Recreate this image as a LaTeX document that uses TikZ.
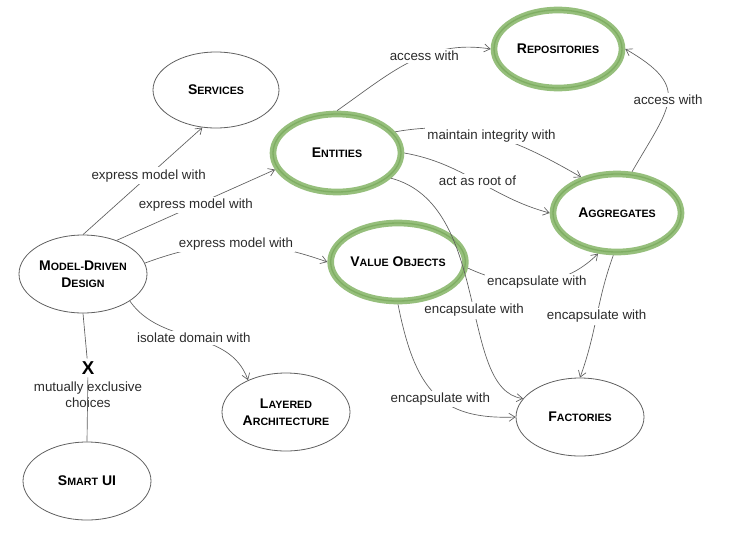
\documentclass[tikz,border=0pt]{standalone}
\usepackage{fontspec}
\setmainfont{Liberation Sans}
\usetikzlibrary{shapes.geometric,arrows.meta}
\definecolor{linegray}{HTML}{5F5F5F}
\definecolor{textgray}{HTML}{2B2B2B}
\definecolor{leafgreen}{HTML}{96BF7C}
\definecolor{leafdark}{HTML}{7FAE63}
\newcommand{\kw}[2]{{\fontsize{10.5}{13}\selectfont #1}{\fontsize{8}{13}\selectfont #2}}

\begin{document}
\begin{tikzpicture}[x=0.75pt,y=0.75pt]
\tikzstyle{every node}+=[inner sep=0pt]
\tikzstyle{concept}=[ellipse,draw=linegray,line width=0.6pt,minimum width=96pt,minimum height=58.5pt,align=center,text=black,font=\bfseries\fontsize{10.5}{13}\selectfont]
\tikzstyle{keyconcept}=[concept,draw=leafgreen,line width=5pt,postaction={draw=leafdark,line width=1pt}]
\tikzstyle{link}=[draw=linegray,line width=0.5pt,-{Straight Barb[length=4.5pt,width=6pt]}]
\tikzstyle{plain}=[draw=linegray,line width=0.5pt]
\tikzstyle{lbl}=[fill=white,inner sep=1.5pt,text=textgray,font=\fontsize{10}{12}\selectfont]
\useasboundingbox (0,0) rectangle (745,-532);
\node[concept,minimum width=94.5pt,minimum height=57pt] (services) at (216,-90) {\kw{S}{ERVICES}};
\node[concept] (mdd) at (83,-274) {\kw{M}{ODEL-}\kw{D}{RIVEN}\\\kw{D}{ESIGN}};
\node[concept] (smart) at (87,-481) {\kw{S}{MART} \kw{UI}{}};
\node[concept] (layer) at (286,-412) {\kw{L}{AYERED}\\\kw{A}{RCHITECTURE}};
\node[concept] (facts) at (580,-417) {\kw{F}{ACTORIES}};
\node[keyconcept] (entities) at (337,-153) {\kw{E}{NTITIES}};
\node[keyconcept] (repos) at (558,-49) {\kw{R}{EPOSITORIES}};
\node[keyconcept] (aggs) at (617,-213) {\kw{A}{GGREGATES}};
\node[keyconcept] (values) at (398,-262) {\kw{V}{ALUE} \kw{O}{BJECTS}};
\node[font=\bfseries\fontsize{14}{16}\selectfont,inner sep=2pt] (cross) at (88,-368) {X};
\node[text=textgray,align=center,font=\fontsize{10}{12}\selectfont] (choice) at (88,-395) {mutually exclusive\\choices};
\draw[link] (mdd.north) -- node[lbl,pos=0.55] {express model with} (services.-110);
\draw[link] (mdd.45) -- node[lbl] {express model with} (entities.195);
\draw[link] (mdd.10) to[bend left=20] node[lbl] {express model with} (values.west);
\draw[link] (mdd.-30) to[out=-55,in=110] node[lbl] {isolate domain with} (layer.140);
\draw[plain] (mdd.south) -- (cross);
\draw[plain] (cross) -- (smart.north);
\draw[link] (entities.north) to[out=35,in=171] node[lbl,pos=0.6] {access with} (repos.west);
\draw[link] (entities.20) to[out=10,in=150] node[lbl] {maintain integrity with} (aggs.135);
\draw[link] (entities.east) to[out=-10,in=165] node[lbl] {act as root of} (aggs.west);
\draw[link] (entities.-25) .. controls (492,-205) and (458,-390) .. (facts.162) node[lbl,pos=0.55] {encapsulate with};
\draw[link] (values.-5) to[out=-25,in=225] node[lbl] {encapsulate with} (aggs.245);
\draw[link] (values.south) .. controls (415,-390) and (440,-420) .. (facts.west) node[lbl,pos=0.55] {encapsulate with};
\draw[link] (aggs.-95) to[out=-110,in=70] node[lbl] {encapsulate with} (facts.north);
\draw[link] (aggs.70) to[out=60,in=-30,looseness=1.6] node[lbl] {access with} (repos.east);
\end{tikzpicture}
\end{document}
